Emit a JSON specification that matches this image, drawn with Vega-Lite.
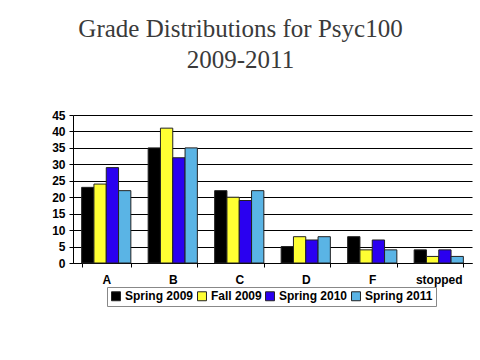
{
  "$schema": "https://vega.github.io/schema/vega-lite/v6.json",
  "autosize": "none",
  "width": 399,
  "height": 148,
  "padding": {"left": 73, "top": 115, "right": 8, "bottom": 97},
  "background": "white",
  "title": {
    "text": ["Grade Distributions for Psyc100", "2009-2011"],
    "font": "Liberation Serif",
    "fontSize": 25,
    "fontWeight": "normal",
    "color": "#3a3a3a",
    "anchor": "middle",
    "dx": -32,
    "offset": 36,
    "lineHeight": 31
  },
  "data": {
    "values": [
      {"grade": "A", "term": "Spring 2009", "count": 23},
      {"grade": "A", "term": "Fall 2009", "count": 24},
      {"grade": "A", "term": "Spring 2010", "count": 29},
      {"grade": "A", "term": "Spring 2011", "count": 22},
      {"grade": "B", "term": "Spring 2009", "count": 35},
      {"grade": "B", "term": "Fall 2009", "count": 41},
      {"grade": "B", "term": "Spring 2010", "count": 32},
      {"grade": "B", "term": "Spring 2011", "count": 35},
      {"grade": "C", "term": "Spring 2009", "count": 22},
      {"grade": "C", "term": "Fall 2009", "count": 20},
      {"grade": "C", "term": "Spring 2010", "count": 19},
      {"grade": "C", "term": "Spring 2011", "count": 22},
      {"grade": "D", "term": "Spring 2009", "count": 5},
      {"grade": "D", "term": "Fall 2009", "count": 8},
      {"grade": "D", "term": "Spring 2010", "count": 7},
      {"grade": "D", "term": "Spring 2011", "count": 8},
      {"grade": "F", "term": "Spring 2009", "count": 8},
      {"grade": "F", "term": "Fall 2009", "count": 4},
      {"grade": "F", "term": "Spring 2010", "count": 7},
      {"grade": "F", "term": "Spring 2011", "count": 4},
      {"grade": "stopped", "term": "Spring 2009", "count": 4},
      {"grade": "stopped", "term": "Fall 2009", "count": 2},
      {"grade": "stopped", "term": "Spring 2010", "count": 4},
      {"grade": "stopped", "term": "Spring 2011", "count": 2}
    ]
  },
  "mark": {"type": "bar", "stroke": "#222222", "strokeWidth": 1},
  "encoding": {
    "x": {
      "field": "grade",
      "type": "nominal",
      "sort": ["A", "B", "C", "D", "F", "stopped"],
      "scale": {"paddingInner": 0.26, "paddingOuter": 0.13},
      "axis": {
        "title": null,
        "labelAngle": 0,
        "labelFont": "Liberation Sans",
        "labelFontWeight": "bold",
        "labelFontSize": 12,
        "labelColor": "black",
        "labelPadding": 7,
        "tickBand": "extent",
        "tickColor": "black",
        "tickSize": 4,
        "domainColor": "black",
        "grid": false
      }
    },
    "xOffset": {
      "field": "term",
      "type": "nominal",
      "sort": ["Spring 2009", "Fall 2009", "Spring 2010", "Spring 2011"],
      "scale": {"paddingInner": 0, "paddingOuter": 0}
    },
    "y": {
      "field": "count",
      "type": "quantitative",
      "scale": {"domain": [0, 45], "nice": false},
      "axis": {
        "title": null,
        "values": [0, 5, 10, 15, 20, 25, 30, 35, 40, 45],
        "labelFont": "Liberation Sans",
        "labelFontWeight": "bold",
        "labelFontSize": 12,
        "labelColor": "black",
        "labelPadding": 4,
        "tickColor": "black",
        "tickSize": 4,
        "domainColor": "black",
        "grid": true,
        "gridColor": "black",
        "gridOpacity": 1,
        "gridWidth": 1
      }
    },
    "color": {
      "field": "term",
      "type": "nominal",
      "sort": ["Spring 2009", "Fall 2009", "Spring 2010", "Spring 2011"],
      "scale": {
        "domain": ["Spring 2009", "Fall 2009", "Spring 2010", "Spring 2011"],
        "range": ["#000000", "#ffff33", "#2a00f0", "#5ab4e5"]
      },
      "legend": {
        "title": null,
        "orient": "none",
        "legendX": 34,
        "legendY": 172,
        "direction": "horizontal",
        "symbolType": "square",
        "symbolSize": 80,
        "symbolStrokeColor": "#222222",
        "symbolStrokeWidth": 1,
        "labelFont": "Liberation Sans",
        "labelFontWeight": "bold",
        "labelFontSize": 12,
        "labelColor": "black",
        "columnPadding": 1,
        "symbolOffset": 0,
        "labelOffset": 3,
        "strokeColor": "#888888",
        "fillColor": "white",
        "padding": 3
      }
    }
  },
  "config": {
    "view": {"stroke": null}
  }
}
